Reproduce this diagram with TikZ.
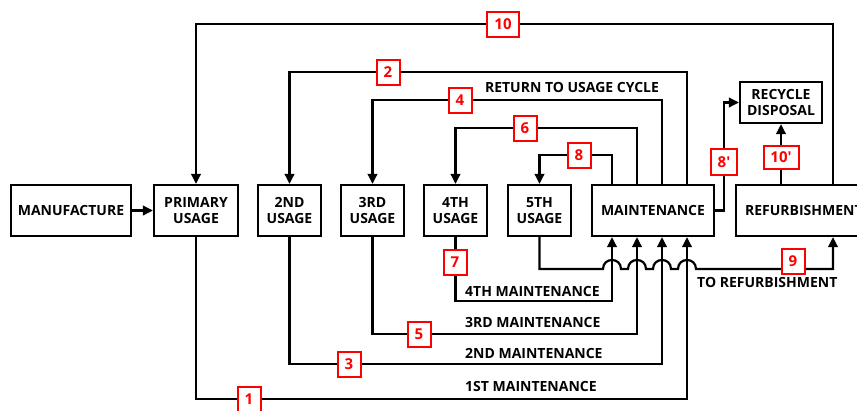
\documentclass[tikz,border=0pt]{standalone}
\usepackage{fontspec}
\setmainfont{Open Sans}
\usetikzlibrary{arrows.meta}
\tikzset{
  box/.style={draw=black, line width=2.2pt, fill=white, align=center, inner sep=0pt,
    minimum height=51pt, font=\fontsize{14}{16.5}\selectfont\bfseries},
  conn/.style={draw=black, line width=2.2pt},
  arr/.style={conn, -{Triangle[length=10pt,width=9.5pt]}},
  lbl/.style={draw=red, line width=2pt, fill=white, text=red, inner sep=0pt,
    minimum width=23pt, minimum height=25pt, font=\fontsize{15}{16}\selectfont\bfseries},
  txt/.style={font=\fontsize{14}{16}\selectfont\bfseries, inner sep=0pt, anchor=west}
}
\begin{document}
\begin{tikzpicture}[x=1pt,y=-1pt]
\useasboundingbox (0,0) rectangle (857,410);
% boxes
\node[box, minimum width=120pt] (man) at (71,210.5) {MANUFACTURE};
\node[box, minimum width=84pt] (prim) at (196,210.5) {PRIMARY\\USAGE};
\node[box, minimum width=63pt] (u2) at (289.5,210.5) {2ND\\USAGE};
\node[box, minimum width=63pt] (u3) at (372.5,210.5) {3RD\\USAGE};
\node[box, minimum width=63pt] (u4) at (455.5,210.5) {4TH\\USAGE};
\node[box, minimum width=63pt] (u5) at (539.5,210.5) {5TH\\USAGE};
\node[box, minimum width=122pt] (maint) at (653,210.5) {MAINTENANCE};
\node[box, anchor=west, align=left, text width=130pt, inner xsep=9pt] (refurb) at (735,210.5) {REFURBISHMENT};
\node[box, minimum width=82pt, minimum height=41pt] (rec) at (781,102.5) {RECYCLE\\DISPOSAL};
% bend coordinates
\coordinate (c10) at (833,24);
\coordinate (c2) at (687,72);
\coordinate (c4) at (662,100);
\coordinate (c6) at (637,128);
\coordinate (c8) at (612,155);
\coordinate (c8p) at (724,102.5);
\coordinate (c1) at (687,399);
\coordinate (c3) at (662,364);
\coordinate (c5) at (637,334);
\coordinate (c7) at (612,301);
\coordinate (c9a) at (603,269);
\coordinate (c9) at (833,269);
% connectors
\draw[arr] (man) -- (prim);
\draw[arr] (refurb.north -| c10) -- (c10) -| (prim.north);
\draw[arr] (maint.north -| c2) -- (c2) -| (u2.north);
\draw[arr] (maint.north -| c4) -- (c4) -| (u3.north);
\draw[arr] (maint.north -| c6) -- (c6) -| (u4.north);
\draw[arr] (maint.north -| c8) -- (c8) -| (u5.north);
\draw[arr] (maint.east) -| (c8p) -- (rec.west);
\draw[arr] (refurb.north -| rec.south) -- (rec.south);
\draw[arr] (prim.south) |- (c1) -- (maint.south -| c1);
\draw[arr] (u2.south) |- (c3) -- (maint.south -| c3);
\draw[arr] (u3.south) |- (c5) -- (maint.south -| c5);
\draw[arr] (u4.south) |- (c7) -- (maint.south -| c7);
\draw[arr] (u5.south) |- (c9a)
  .. controls (603,257) and (621,257) .. (621,269) -- (628,269)
  .. controls (628,257) and (646,257) .. (646,269) -- (653,269)
  .. controls (653,257) and (671,257) .. (671,269) -- (678,269)
  .. controls (678,257) and (696,257) .. (696,269)
  -- (c9) -- (refurb.south -| c9);
% texts
\node[txt, anchor=center] (t0) at (572,87) {RETURN TO USAGE CYCLE};
\node[txt] (t4) at (465,291) {4TH MAINTENANCE};
\node[txt] (t3) at (465,322) {3RD MAINTENANCE};
\node[txt] (t2) at (465,353) {2ND MAINTENANCE};
\node[txt] (t1) at (465,386) {1ST MAINTENANCE};
\node[txt] (tr) at (697,282) {TO REFURBISHMENT};
% labels
\node[lbl, minimum width=32pt] (l10) at (503,24) {10};
\node[lbl] (l2) at (388,72) {2};
\node[lbl] (l4) at (460,100) {4};
\node[lbl] (l6) at (525,128) {6};
\node[lbl] (l8) at (579,155) {8};
\node[lbl, minimum width=26pt, minimum height=26pt] (l8p) at (724,162) {8′};
\node[lbl, minimum width=35pt, minimum height=23pt] (l10p) at (781,157) {10′};
\node[lbl] (l1) at (249,399) {1};
\node[lbl] (l3) at (349,364) {3};
\node[lbl] (l5) at (419,334) {5};
\node[lbl] (l7) at (455,262) {7};
\node[lbl] (l9) at (793,261) {9};
\end{tikzpicture}
\end{document}
